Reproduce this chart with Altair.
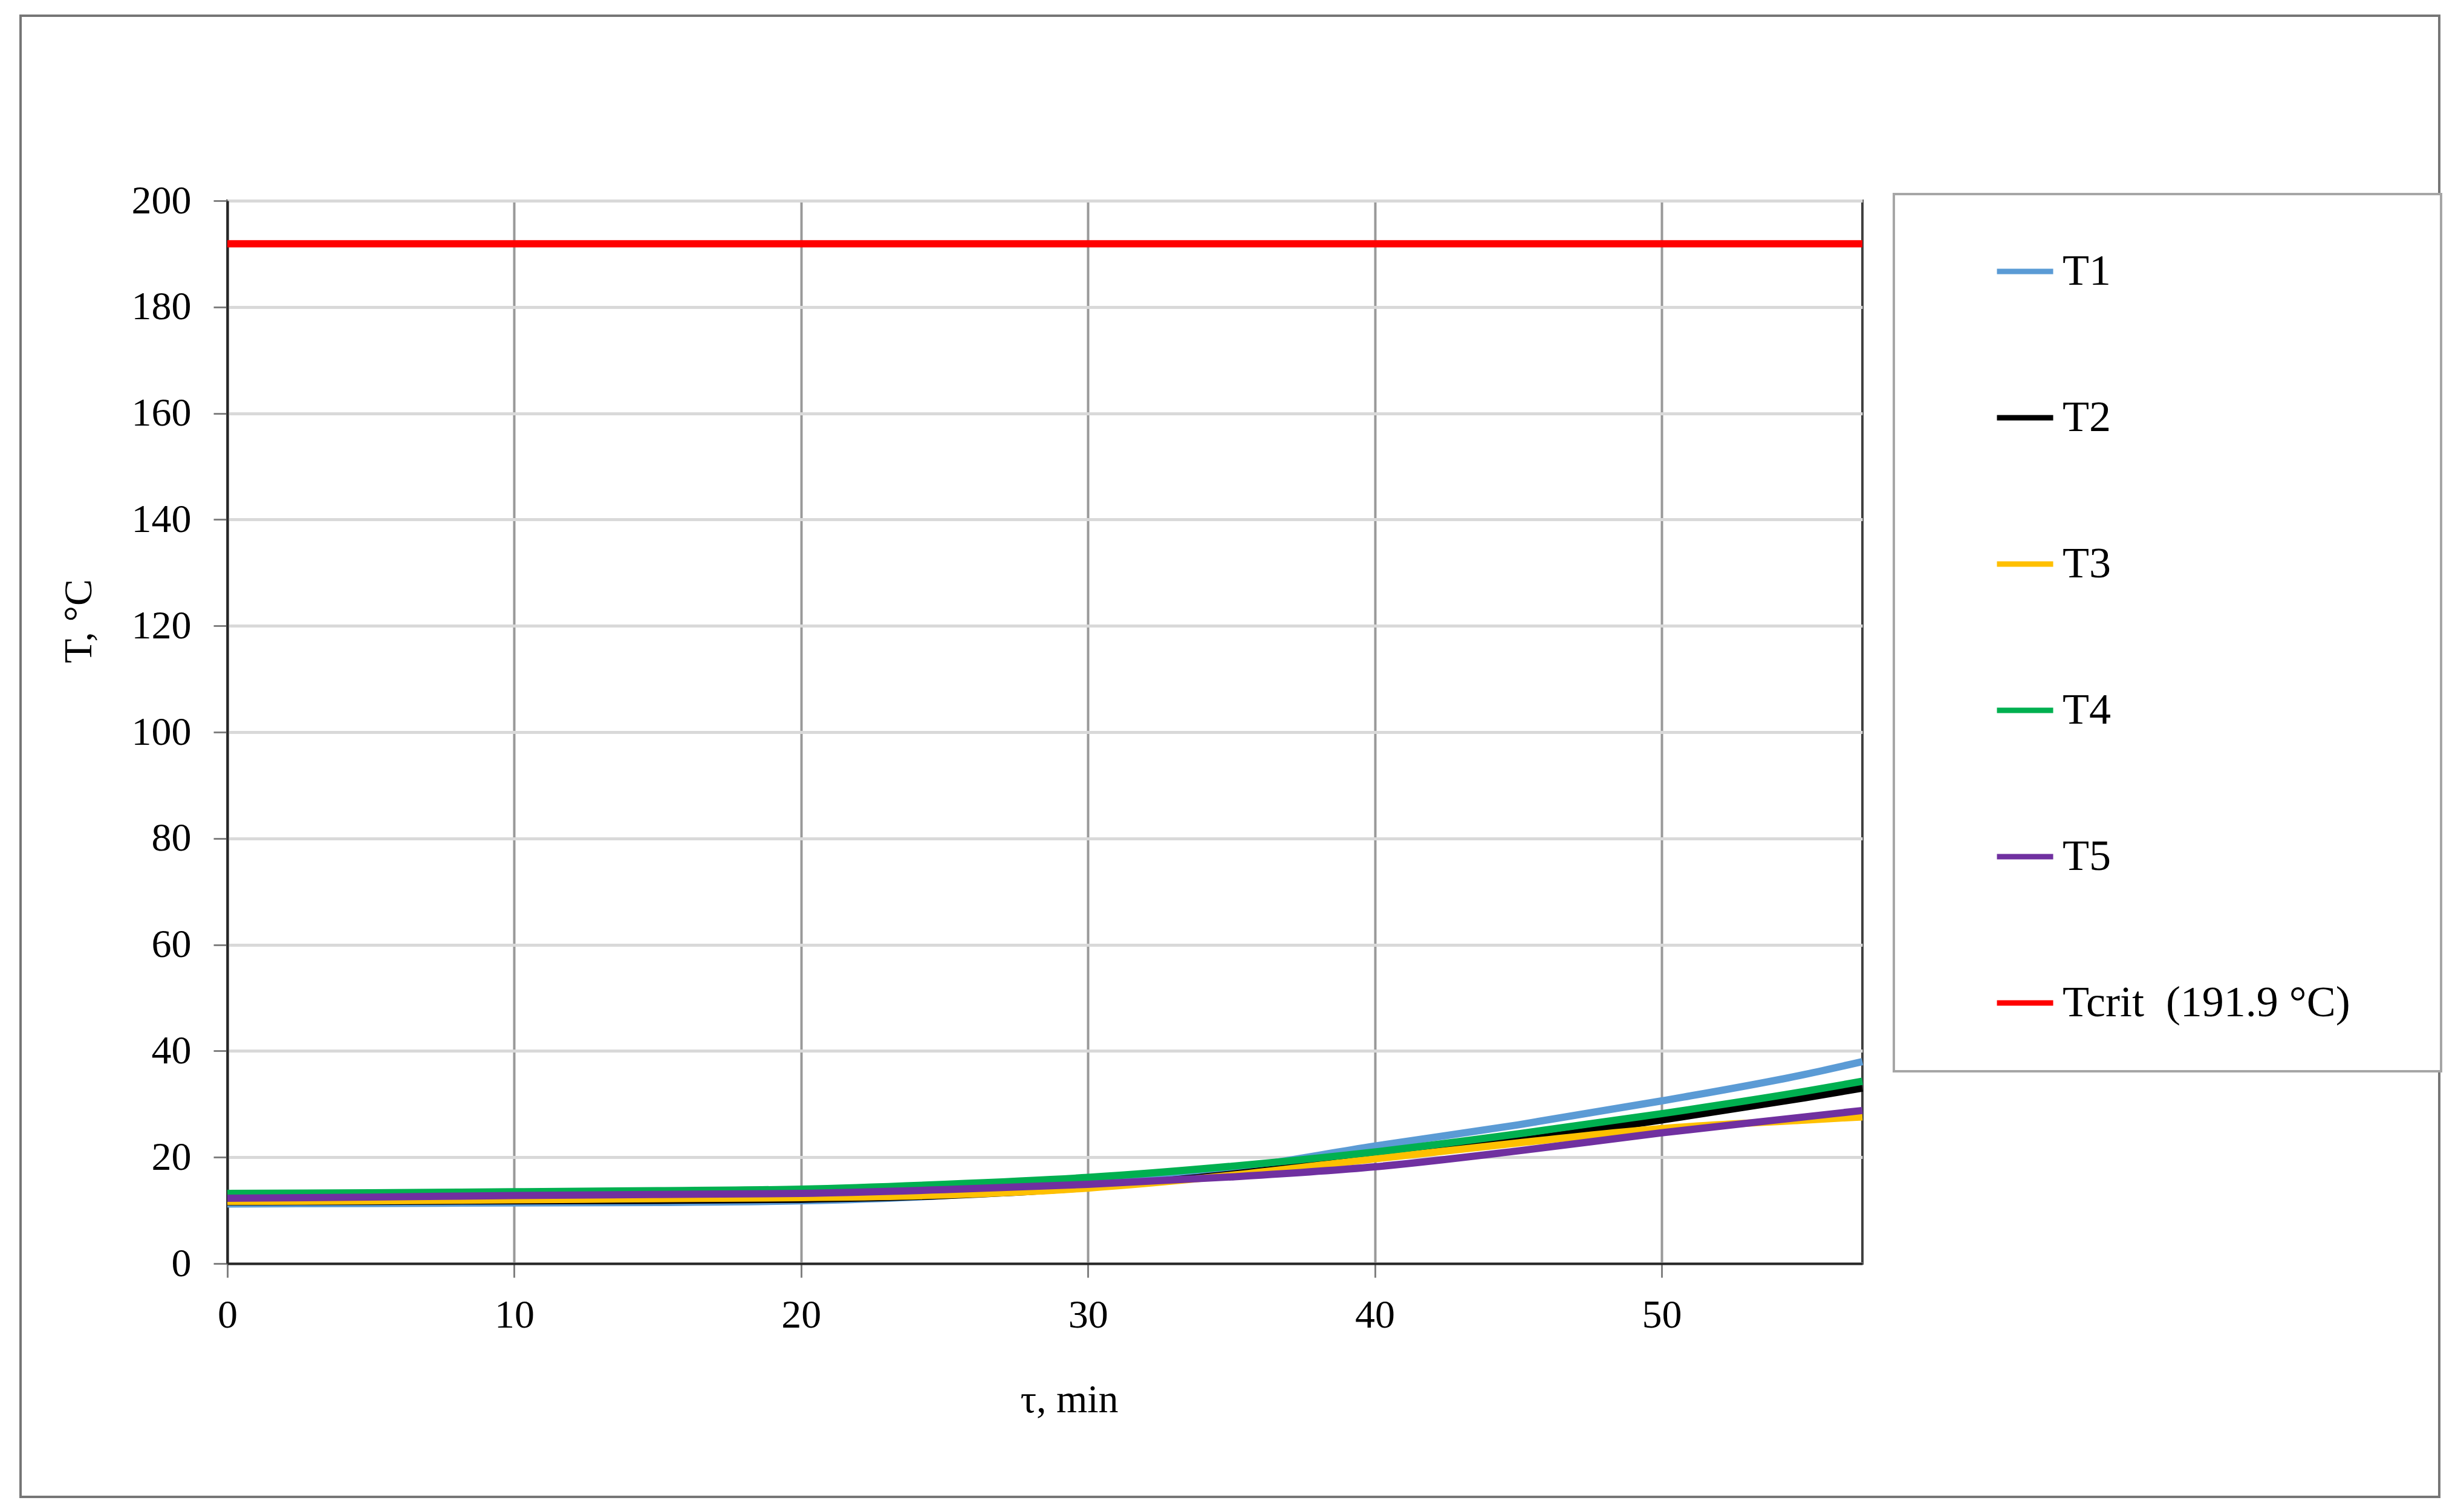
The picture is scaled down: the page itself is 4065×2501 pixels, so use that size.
import altair as alt
import pandas as pd

# ---- data ----
time_min = [0, 5, 10, 15, 20, 25, 30, 35, 40, 45, 50, 55, 57]
t1 = [11.2, 11.3, 11.4, 11.5, 11.8, 12.8, 15.0, 17.8, 22.1, 26.1, 30.6, 35.6, 38.0]
t2 = [11.6, 11.7, 11.8, 11.9, 12.1, 12.8, 14.3, 16.8, 19.8, 23.1, 27.0, 31.2, 33.0]
t3 = [11.7, 11.8, 12.0, 12.2, 12.4, 12.9, 14.2, 16.6, 19.7, 22.7, 25.4, 27.0, 27.6]
t4 = [13.2, 13.3, 13.5, 13.7, 14.0, 14.9, 16.2, 18.3, 21.0, 24.4, 28.2, 32.4, 34.3]
t5 = [12.3, 12.5, 12.8, 13.0, 13.2, 13.9, 14.9, 16.3, 18.2, 21.2, 24.6, 27.6, 28.8]
t_crit = 191.9
crit_time = [0, 57]

series_names = ["T1", "T2", "T3", "T4", "T5", "Tcrit \u00a0(191.9 °C)"]
series_colors = ["#5B9BD5", "#000000", "#FFC000", "#00B050", "#7030A0", "#FF0000"]
x_ticks = [0, 10, 20, 30, 40, 50]
y_ticks = [0, 20, 40, 60, 80, 100, 120, 140, 160, 180, 200]

rows = []
for name, vals in zip(series_names[:5], [t1, t2, t3, t4, t5]):
    for t, v in zip(time_min, vals):
        rows.append({"time": t, "temp": v, "series": name})
df = pd.DataFrame(rows)
df_crit = pd.DataFrame({"time": crit_time, "temp": [t_crit, t_crit], "series": [series_names[5]] * 2})

FONT = "Liberation Serif"

color = alt.Color(
    "series:N",
    scale=alt.Scale(domain=series_names, range=series_colors),
    legend=alt.Legend(
        orient="none", legendX=2756, legendY=-11,
        # invisible tiny title on the right only widens the legend frame
        title=".", titleOrient="right", titleOpacity=0, titleFontSize=8, titlePadding=70,
        symbolType="stroke", symbolSize=8649, symbolStrokeWidth=9,
        symbolOffset=89, labelOffset=11,
        labelFont=FONT, labelFontSize=72, labelColor="black", labelLimit=0,
        rowPadding=155, padding=77,
        strokeColor="#a6a6a6", fillColor="white",
    ),
)

x_enc = alt.X(
    "time:Q",
    scale=alt.Scale(domain=[0, 57], nice=False, zero=False),
    axis=alt.Axis(
        values=x_ticks, title="τ, min", format="d", labelFlush=False,
        labelFont=FONT, labelFontSize=66, labelColor="black", labelPadding=30,
        tickColor="#808080", tickSize=23, tickWidth=3,
        gridColor="#999999", gridWidth=4,
        domainColor="#262626", domainWidth=4,
        titleFont=FONT, titleFontSize=66, titleFontWeight="normal", titleColor="black",
        titleX=1392, titleY=225, titleAlign="center", titleBaseline="middle",
    ),
)
y_enc = alt.Y(
    "temp:Q",
    scale=alt.Scale(domain=[0, 200], nice=False),
    axis=alt.Axis(
        values=y_ticks, title="T, °C", format="d",
        labelFont=FONT, labelFontSize=66, labelColor="black", labelPadding=37,
        tickColor="#808080", tickSize=23, tickWidth=3,
        gridColor="#d9d9d9", gridWidth=5,
        domainColor="#262626", domainWidth=4,
        titleFont=FONT, titleFontSize=66, titleFontWeight="normal", titleColor="black",
        titleX=-246, titleY=695, titleAngle=270, titleAlign="center", titleBaseline="middle",
    ),
)

frame = alt.Chart(pd.DataFrame({"k": [0]})).mark_rect(
    fillOpacity=0, stroke="#767676", strokeWidth=4
).encode(
    x=alt.value(-342), x2=alt.value(3658), y=alt.value(-306), y2=alt.value(2144)
)

lines = alt.Chart(df).mark_line(strokeWidth=12, interpolate="monotone").encode(
    x=x_enc, y=y_enc, color=color, order=alt.Order("time:Q")
)
crit = alt.Chart(df_crit).mark_line(strokeWidth=12).encode(
    x="time:Q", y="temp:Q", color=alt.Color("series:N")
)

chart = alt.layer(frame, lines, crit).properties(
    width=2704, height=1758,
    autosize=alt.AutoSizeParams(type="none"),
    padding={"left": 368, "top": 324, "right": 977, "bottom": 403},
    background="white",
).configure_view(stroke="#404040", strokeWidth=4).configure_legend(strokeWidth=4)

chart.save("out.html", embed_options={"renderer": "svg", "actions": False})
